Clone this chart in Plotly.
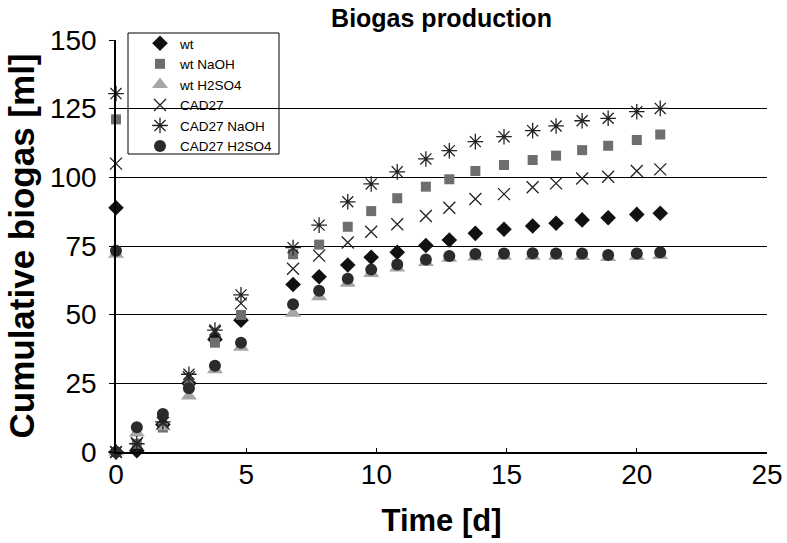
import plotly.graph_objects as go

days = [0, 0.8, 1.8, 2.8, 3.8, 4.8, 6.8, 7.8, 8.9, 9.8, 10.8, 11.9, 12.8, 13.8, 14.9,
        16.0, 16.9, 17.9, 18.9, 20.0, 20.9]

wt = [0, 0.5, 10, 25, 41, 48, 61.0, 63.8, 68.1, 70.9, 72.7, 75.2, 77.2, 79.6, 81.1,
      82.3, 83.3, 84.5, 85.3, 86.5, 86.9]
wt_naoh = [0, 3, 8.9, 25.2, 39.8, 49.9, 72, 75.5, 82.0, 87.7, 92.4, 96.6, 99.3, 102.3, 104.5,
           106.3, 107.9, 109.9, 111.5, 113.6, 115.6]
wt_h2so4 = [0, 6.9, 9.2, 20.4, 29.9, 38.1, 50.5, 56.5, 61.4, 65.0, 67.0, 69.0, 70.5, 71.0, 71.3,
            71.3, 71.3, 71.2, 70.8, 71.2, 71.5]
cad27 = [0, 3.2, 10.5, 27.2, 43.8, 54.1, 66.7, 71.5, 76.3, 80.2, 82.9, 85.9, 88.9, 92.1, 93.9,
         96.4, 97.8, 99.6, 100.2, 102.3, 102.9]
cad27_naoh = [0, 3, 11, 28.3, 44.4, 57.2, 74.4, 82.6, 91.1, 97.6, 102.0, 106.7, 109.7, 113.0, 114.8,
              117.0, 118.7, 120.6, 121.5, 123.9, 125.1]
cad27_h2so4 = [0, 9.0, 13.8, 23.2, 31.4, 39.8, 53.8, 58.7, 63.1, 66.4, 68.3, 70.1, 71.4, 72.1, 72.3,
               72.4, 72.3, 72.3, 71.7, 72.3, 72.7]

# extra points drawn on the y axis (day 0) in the reference
start_day = 0
start_values = {"wt": 88.9, "wt NaOH": 121.1, "wt H2SO4": 72.0,
                "CAD27": 105.0, "CAD27 NaOH": 130.5, "CAD27 H2SO4": 73.3}

names = ["wt", "wt NaOH", "wt H2SO4", "CAD27", "CAD27 NaOH", "CAD27 H2SO4"]
series = [wt, wt_naoh, wt_h2so4, cad27, cad27_naoh, cad27_h2so4]

styles = {
    "wt": dict(symbol="diamond", color="#111111", size=12),
    "wt NaOH": dict(symbol="square", color="#6e6e6e", size=10),
    "wt H2SO4": dict(symbol="triangle-up", color="#a6a6a6", size=14),
    "CAD27": dict(symbol="x-thin-open", color="#222222", size=12, line=dict(width=1.3, color="#222222")),
    "CAD27 NaOH": dict(symbol="asterisk-open", color="#222222", size=13, line=dict(width=1.3, color="#222222")),
    "CAD27 H2SO4": dict(symbol="circle", color="#2b2b2b", size=12),
}

L, R, T, B = 116, 767, 40, 452
W, H = 787, 543
PW, PH = R - L, B - T

fig = go.Figure()
for name, vals in zip(names, series):
    st = dict(styles[name])
    marker = dict(symbol=st["symbol"], color=st["color"], size=st["size"])
    if "line" in st:
        marker["line"] = st["line"]
    else:
        marker["line"] = dict(width=0)
    fig.add_trace(go.Scatter(
        x=days + [start_day], y=vals + [start_values[name]],
        mode="markers", name=name, marker=marker, cliponaxis=False,
    ))

font_num = "Liberation Sans Narrow, Arial Narrow, Liberation Sans, Arial, sans-serif"
font_bold = "Liberation Sans, Arial, sans-serif"

# legend frame (white box)
fig.add_shape(type="rect", xref="paper", yref="paper",
              x0=(128 - L) / PW, x1=(279 - L) / PW,
              y0=(B - 154) / PH, y1=(B - 33) / PH,
              line=dict(color="black", width=1), fillcolor="white", layer="between")

fig.update_layout(
    width=W, height=H,
    margin=dict(l=L, r=W - R, t=T, b=H - B, autoexpand=False),
    paper_bgcolor="white", plot_bgcolor="white",
    title=dict(text="<b>Biogas production</b>", x=(L + PW / 2) / W, xanchor="center",
               y=1 - 18 / H, yanchor="middle",
               font=dict(family=font_bold, size=25, color="black")),
    xaxis=dict(range=[0, 25], tickvals=[0, 5, 10, 15, 20, 25], showgrid=False, zeroline=False,
               automargin=False,
               showline=True, linecolor="black", linewidth=1.5, ticks="inside", ticklen=4,
               tickcolor="black", ticklabelstandoff=-3,
               tickfont=dict(family=font_num, size=28, color="black"),
               title=dict(text="<b>Time [d]</b>", font=dict(family=font_bold, size=31, color="black"),
                          standoff=20)),
    yaxis=dict(range=[0, 150], tickvals=[0, 25, 50, 75, 100, 125, 150], showgrid=True,
               gridcolor="black", gridwidth=1, zeroline=False, automargin=False,
               showline=True, linecolor="black", linewidth=1.5, ticks="outside", ticklen=5,
               tickcolor="black", ticklabelstandoff=7,
               tickfont=dict(family=font_num, size=28, color="black"),
               title=dict(text="<b>Cumulative biogas [ml]</b>",
                          font=dict(family=font_bold, size=35, color="black"), standoff=5)),
    legend=dict(x=(140 - L) / PW, y=1 + (T - 28) / PH, xanchor="left", yanchor="top",
                bgcolor="rgba(0,0,0,0)", borderwidth=0,
                font=dict(family=font_bold, size=13.5, color="black"),
                itemwidth=30, tracegroupgap=0),
    showlegend=True,
)

fig.write_html("out.html", config={"displayModeBar": False},
               post_script="document.body.style.margin='0';")
